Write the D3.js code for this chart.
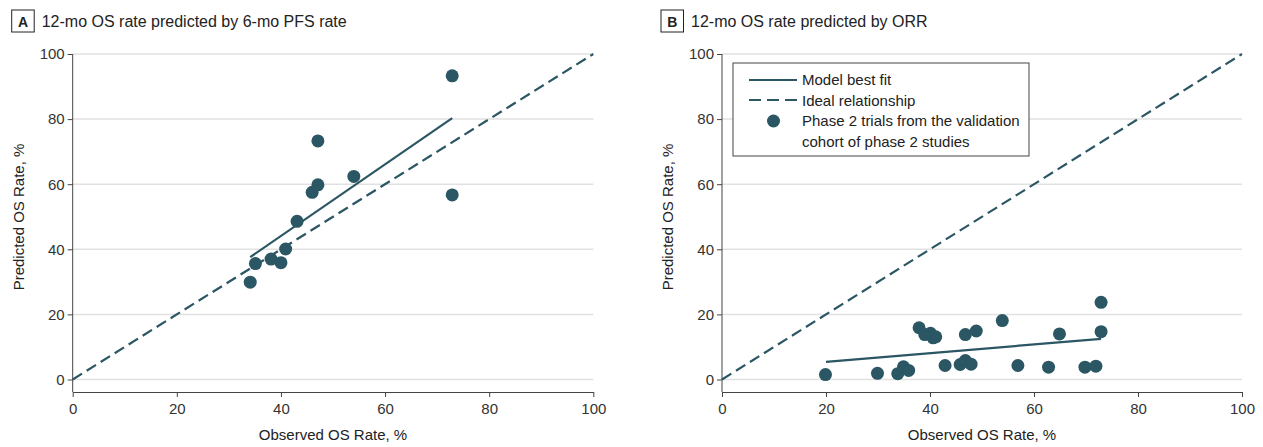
<!DOCTYPE html>
<html>
<head>
<meta charset="utf-8">
<script src="https://cdn.jsdelivr.net/npm/d3@7"></script>
<style>
  body { margin: 0; background: #fff; }
  svg { font-family: "Liberation Sans", Arial, sans-serif; }
</style>
</head>
<body>
<script>
// ticks shared by both panels
var tickValues = [0, 20, 40, 60, 80, 100];

// panel A: 12-mo OS predicted by 6-mo PFS
var obsA  = [72.9, 47.1, 54.0, 47.1, 46.0, 72.9, 43.1, 40.9, 38.1, 40.0, 35.1, 34.1];
var predA = [93.3, 73.3, 62.4, 59.8, 57.5, 56.7, 48.6, 40.1, 37.0, 35.9, 35.6, 29.9];
var fitAx = [34.1, 72.9];
var fitAy = [37.6, 80.3];

// panel B: 12-mo OS predicted by ORR
var obsB  = [19.9, 29.9, 33.8, 34.9, 35.9, 37.9, 39.0, 40.1, 40.6, 41.1, 42.9, 45.8,
             46.8, 47.9, 46.8, 48.9, 53.9, 56.9, 62.8, 64.9, 69.8, 71.9, 72.9, 72.9];
var predB = [1.5, 1.9, 1.8, 3.9, 2.8, 15.9, 13.8, 14.2, 12.8, 13.1, 4.3, 4.6,
             5.8, 4.7, 13.8, 14.9, 18.1, 4.3, 3.8, 14.0, 3.8, 4.1, 23.7, 14.7];
var fitBx = [20.0, 72.9];
var fitBy = [5.4, 12.5];

var ideal = [0, 100];

var legendItems = ["Model best fit", "Ideal relationship",
                   "Phase 2 trials from the validation", "cohort of phase 2 studies"];

var color = "#2b5663";
var width = 1263, height = 447;

var svg = d3.select("body").append("svg")
  .attr("width", width).attr("height", height);

function drawPanel(opts) {
  var x = d3.scaleLinear().domain([0, 100]).range([opts.left, opts.right]);
  var y = d3.scaleLinear().domain([0, 100]).range([379.5, 54]);
  var axisY = 392;
  var g = svg.append("g");

  // panel letter + title
  g.append("rect").attr("x", opts.left - 61).attr("y", 10)
    .attr("width", 22.5).attr("height", 22).attr("fill", "none")
    .attr("stroke", "#222").attr("stroke-width", 1);
  g.append("text").attr("x", opts.left - 49.7).attr("y", 26.5)
    .attr("text-anchor", "middle").attr("font-weight", "bold")
    .attr("font-size", 14).attr("fill", "#222").text(opts.letter);
  g.append("text").attr("x", opts.left - 31).attr("y", 26.5)
    .attr("font-size", 16).attr("fill", "#222").text(opts.title);

  // grid
  g.selectAll(".grid").data(tickValues).enter().append("line")
    .attr("x1", x(0)).attr("x2", x(100))
    .attr("y1", function (d) { return y(d); })
    .attr("y2", function (d) { return y(d); })
    .attr("stroke", "#e1e1e1").attr("stroke-width", 1.5);

  // y axis
  var ya = g.append("g").attr("transform", "translate(" + x(0) + ",0)")
    .call(d3.axisLeft(y).tickValues(tickValues).tickSize(5).tickPadding(3).tickSizeOuter(0));
  ya.select(".domain").remove();
  ya.append("line").attr("x1", 0).attr("x2", 0).attr("y1", y(100)).attr("y2", axisY)
    .attr("stroke", "#444");
  ya.selectAll(".tick line").attr("stroke", "#444");
  ya.selectAll("text").attr("font-size", 15).attr("fill", "#333")
    .attr("font-family", "Liberation Sans, Arial, sans-serif");

  // x axis
  var xa = g.append("g").attr("transform", "translate(0," + axisY + ")")
    .call(d3.axisBottom(x).tickValues(tickValues).tickSize(5).tickPadding(6).tickSizeOuter(0));
  xa.select(".domain").attr("stroke", "#444");
  xa.selectAll(".tick line").attr("stroke", "#444");
  xa.selectAll("text").attr("font-size", 15).attr("fill", "#333")
    .attr("font-family", "Liberation Sans, Arial, sans-serif");

  // axis titles
  g.append("text").attr("x", (x(0) + x(100)) / 2).attr("y", 440)
    .attr("text-anchor", "middle").attr("font-size", 15).attr("fill", "#222")
    .text("Observed OS Rate, %");
  g.append("text")
    .attr("transform", "translate(" + (opts.left - 49) + "," + 217 + ") rotate(-90)")
    .attr("text-anchor", "middle").attr("font-size", 15).attr("fill", "#222")
    .text("Predicted OS Rate, %");

  var line = d3.line().x(function (d) { return x(d[0]); }).y(function (d) { return y(d[1]); });

  // ideal relationship
  g.append("path").datum(d3.zip(ideal, ideal)).attr("d", line)
    .attr("fill", "none").attr("stroke", color).attr("stroke-width", 2.2)
    .attr("stroke-dasharray", "11,5.5");

  // model best fit
  g.append("path").datum(d3.zip(opts.fitX, opts.fitY)).attr("d", line)
    .attr("fill", "none").attr("stroke", color).attr("stroke-width", 2.2);

  // points
  g.selectAll(".pt").data(d3.zip(opts.obs, opts.pred)).enter().append("circle")
    .attr("cx", function (d) { return x(d[0]); })
    .attr("cy", function (d) { return y(d[1]); })
    .attr("r", 6.5).attr("fill", color);

  return g;
}

drawPanel({ letter: "A", title: "12-mo OS rate predicted by 6-mo PFS rate",
  left: 72.7, right: 593.3, obs: obsA, pred: predA, fitX: fitAx, fitY: fitAy });

var gB = drawPanel({ letter: "B", title: "12-mo OS rate predicted by ORR",
  left: 722, right: 1242, obs: obsB, pred: predB, fitX: fitBx, fitY: fitBy });

// legend
var lg = gB.append("g").attr("transform", "translate(733,63)");
lg.append("rect").attr("width", 296).attr("height", 93)
  .attr("fill", "#fff").attr("stroke", "#444").attr("stroke-width", 1);
lg.append("line").attr("x1", 16).attr("x2", 64).attr("y1", 17).attr("y2", 17)
  .attr("stroke", color).attr("stroke-width", 2.2);
lg.append("line").attr("x1", 16).attr("x2", 64).attr("y1", 37).attr("y2", 37)
  .attr("stroke", color).attr("stroke-width", 2.2).attr("stroke-dasharray", "12,6");
lg.append("circle").attr("cx", 40.5).attr("cy", 58).attr("r", 6.5).attr("fill", color);
lg.selectAll(".lt").data(legendItems).enter().append("text")
  .attr("x", 69).attr("y", function (d, i) { return 22 + i * 20.5; })
  .attr("font-size", 15).attr("fill", "#222")
  .text(function (d) { return d; });
</script>
</body>
</html>
